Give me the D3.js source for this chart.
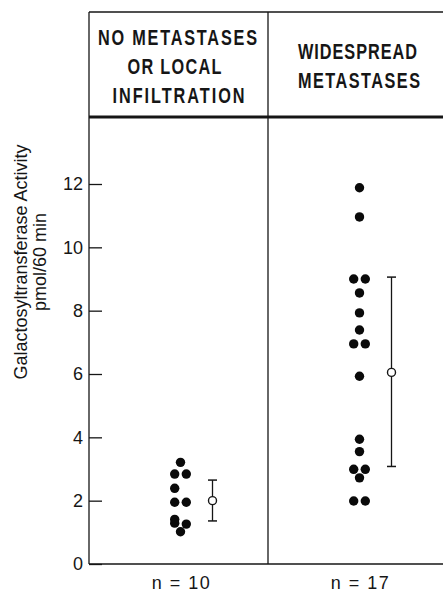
<!DOCTYPE html>
<html>
<head>
<meta charset="utf-8">
<script src="https://cdn.jsdelivr.net/npm/d3@7"></script>
<style>
  body { margin: 0; background: #fff; }
  svg { display: block; }
</style>
</head>
<body>
<div id="chart"></div>
<script>
// groups and headers
var groups = ["none", "widespread"];
var headerLines = [["NO METASTASES", "OR LOCAL", "INFILTRATION"], ["WIDESPREAD", "METASTASES"]];
var countLabels = ["n = 10", "n = 17"];

// individual values (pmol/60 min) and which side of the column each dot sits
var noneValues = [3.21, 2.84, 2.84, 2.39, 1.95, 1.95, 1.41, 1.29, 1.26, 1.02];
var noneLanes  = [0, -1, 1, -1, -1, 1, -1, -1, 1, 0];
var wideValues = [11.88, 10.96, 9.0, 9.0, 8.56, 7.93, 7.39, 6.95, 6.95, 5.93, 3.94, 3.55, 2.99, 2.99, 2.72, 1.99, 1.99];
var wideLanes  = [0, 0, -1, 1, 0, 0, 0, -1, 1, 0, 0, 0, -1, 1, 0, -1, 1];

// mean and spread
var means = [2.0, 6.05];
var barLow = [1.36, 3.08];
var barHigh = [2.65, 9.06];

var yTicks = [0, 2, 4, 6, 8, 10, 12];

var W = 443, H = 592;
var frameTop = 12, headerBottom = 117, left = 89, bottom = 564;
var ink = "#161616";

var svg = d3.select("#chart").append("svg").attr("width", W).attr("height", H);

var x = d3.scaleBand().domain(groups).range([left, 447]);
var y = d3.scaleLinear().domain([0, 12]).range([bottom, 184]);

// frame
svg.append("line").attr("x1", left).attr("x2", W).attr("y1", frameTop).attr("y2", frameTop)
    .style("stroke", ink).style("stroke-width", 1.4);
svg.append("line").attr("x1", left).attr("x2", W).attr("y1", headerBottom).attr("y2", headerBottom)
    .style("stroke", ink).style("stroke-width", 3);
svg.append("line").attr("x1", left).attr("x2", left).attr("y1", frameTop).attr("y2", bottom)
    .style("stroke", ink).style("stroke-width", 1.3);
svg.append("line").attr("x1", x("widespread")).attr("x2", x("widespread")).attr("y1", frameTop).attr("y2", bottom)
    .style("stroke", ink).style("stroke-width", 1.3);
svg.append("line").attr("x1", left).attr("x2", W).attr("y1", bottom).attr("y2", bottom)
    .style("stroke", ink).style("stroke-width", 1.3);

// header text: narrow glyphs, wide tracking
var headerWidths = [[159, 94, 132], [119, 122]];
var headerShift = [[-1, -4, 0], [0, 1.5]];
var squeeze = 0.74;
groups.forEach(function(g, gi) {
    var lines = headerLines[gi];
    lines.forEach(function(t, li) {
        var by = 66 + (li - (lines.length - 1) / 2) * 29 + 7.5;
        var cx = x(g) + x.bandwidth() / 2 + headerShift[gi][li];
        svg.append("text")
            .attr("transform", "translate(" + cx + "," + by + ") scale(" + squeeze + ",1)")
            .attr("text-anchor", "middle")
            .attr("textLength", headerWidths[gi][li] / squeeze)
            .attr("lengthAdjust", "spacing")
            .style("font-family", "'Liberation Sans', Arial, sans-serif")
            .style("font-weight", "bold")
            .style("font-size", "22px")
            .style("fill", ink)
            .text(t);
    });
});

// y axis (ticks point inward)
var yAxis = d3.axisLeft(y).tickValues(yTicks).tickSizeInner(-13).tickSizeOuter(0).tickPadding(6);
var ga = svg.append("g").attr("transform", "translate(" + left + ",0)").call(yAxis);
ga.select(".domain").remove();
ga.selectAll(".tick line").style("stroke", ink).style("stroke-width", 1.3);
ga.selectAll(".tick text")
    .style("font-family", "'Liberation Sans', Arial, sans-serif")
    .style("font-size", "18px")
    .style("fill", ink);

// y label
var yl = svg.append("text")
    .attr("transform", "translate(27,262) rotate(-90)")
    .attr("text-anchor", "middle")
    .style("font-family", "'Liberation Sans', Arial, sans-serif")
    .style("font-size", "18px")
    .style("fill", ink);
yl.append("tspan").attr("x", 0).attr("y", 0).text("Galactosyltransferase Activity");
yl.append("tspan").attr("x", 0).attr("y", 18.5).text("pmol/60 min");

// count labels
svg.selectAll(".count").data(groups).enter().append("text")
    .attr("class", "count")
    .attr("x", function(d) { return x(d) + x.bandwidth() / 2 + 3; })
    .attr("y", 589)
    .attr("text-anchor", "middle")
    .style("font-family", "'Liberation Sans', Arial, sans-serif")
    .style("font-size", "18px")
    .style("letter-spacing", "1.5px")
    .style("fill", ink)
    .text(function(d, i) { return countLabels[i]; });

// dots
var dotData = [];
noneValues.forEach(function(v, i) { dotData.push({ g: "none", v: v, lane: noneLanes[i] }); });
wideValues.forEach(function(v, i) { dotData.push({ g: "widespread", v: v, lane: wideLanes[i] }); });

var dotCenter = function(g) { return x(g) + x.bandwidth() / 2 + 2; };

svg.selectAll(".dot").data(dotData).enter().append("circle")
    .attr("class", "dot")
    .attr("cx", function(d) { return dotCenter(d.g) + d.lane * 5.8; })
    .attr("cy", function(d) { return y(d.v); })
    .attr("r", 4.7)
    .style("fill", "#0a0a0a");

// mean +/- bars
var meanData = groups.map(function(g, i) { return { g: g, m: means[i], lo: barLow[i], hi: barHigh[i] }; });
var mx = function(d) { return dotCenter(d.g) + 32; };

var mg = svg.selectAll(".mean").data(meanData).enter().append("g").attr("class", "mean");
mg.append("line")
    .attr("x1", mx).attr("x2", mx)
    .attr("y1", function(d) { return y(d.lo); }).attr("y2", function(d) { return y(d.hi); })
    .style("stroke", ink).style("stroke-width", 1.3);
mg.append("line")
    .attr("x1", function(d) { return mx(d) - 4.5; }).attr("x2", function(d) { return mx(d) + 4.5; })
    .attr("y1", function(d) { return y(d.hi); }).attr("y2", function(d) { return y(d.hi); })
    .style("stroke", ink).style("stroke-width", 1.5);
mg.append("line")
    .attr("x1", function(d) { return mx(d) - 4.5; }).attr("x2", function(d) { return mx(d) + 4.5; })
    .attr("y1", function(d) { return y(d.lo); }).attr("y2", function(d) { return y(d.lo); })
    .style("stroke", ink).style("stroke-width", 1.5);
mg.append("circle")
    .attr("cx", mx).attr("cy", function(d) { return y(d.m); })
    .attr("r", 4)
    .style("fill", "#fff").style("stroke", ink).style("stroke-width", 1.4);
</script>
</body>
</html>
